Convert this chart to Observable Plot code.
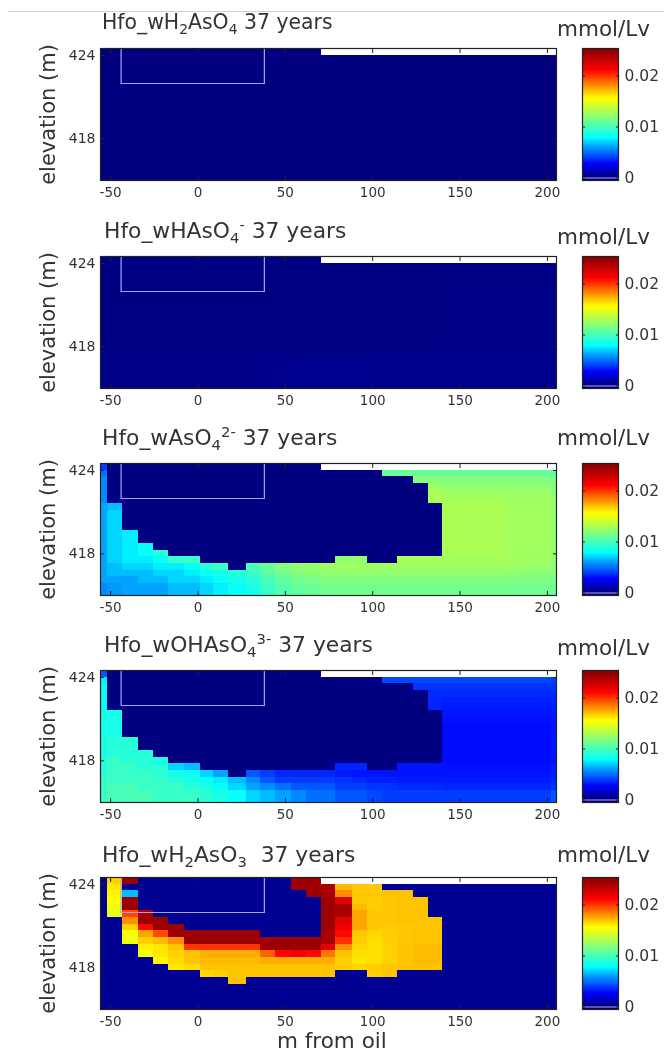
<!DOCTYPE html>
<html><head><meta charset="utf-8">
<script src="https://cdn.jsdelivr.net/npm/d3@7"></script>
<script src="https://cdn.jsdelivr.net/npm/@observablehq/plot@0.6"></script>
<style>
html,body{margin:0;padding:0;background:#fff;}
#root{position:relative;width:664px;height:1053px;overflow:hidden;font-family:"DejaVu Sans",sans-serif;color:#333;filter:blur(0.5px);}
#root svg{position:absolute;overflow:visible;background:transparent;}
.t{position:absolute;line-height:24px;white-space:pre;}
.t sub,.t sup{font-size:.68em;line-height:0;}
#rule{position:absolute;left:8px;right:0;top:11px;height:1px;background:#cfcfcf;}
</style></head><body><div id="root"><div id="rule"></div></div>
<script>
const _ = null;
// grid geometry
const columnEdges = [-55.8,-51.6,-43.4,-34.3,-25.4,-16.7,-7.7,1.4,8.9,17.5,27.7,35.8,44.6,53.5,62.1,70.9,78.9,88.4,97,105.5,114,123.3,131.8,139.7,148.4,157.6,166.1,175.3,183.8,193,202.1,205.2];
const rowEdges = [424.5,424.02,423.54,423.06,422.58,422.1,421.62,421.14,420.66,420.18,419.7,419.22,418.74,418.26,417.78,417.3,416.82,416.34,415.86,415];
const xTicks = [-50,0,50,100,150,200];
const yTicks = [424,418];
const barTicks = [0,0.01,0.02];
const buildingX = [-44,-44,38,38];
const buildingY = [424.5,421.98,421.98,424.5];
const jetValues = [0,0.0028,0.0078,0.0117,0.0155,0.0211,0.0255];
const jetColors = ["#000080","#0000ff","#00ffff","#80ff80","#ffff00","#ff0000","#800000"];

// cell values in 10^-3 mmol/Lv, top row first; _ = no data (white strip)
const h2aso4 = [
[0,0,0,0,0,0,0,0,0,0,0,0,0,0,0,_,_,_,_,_,_,_,_,_,_,_,_,_,_,_,_],
[0,0,0,0,0,0,0,0,0,0,0,0,0,0,0,0,0,0,0,0,0,0,0,0,0,0,0,0,0,0,0],
[0,0,0,0,0,0,0,0,0,0,0,0,0,0,0,0,0,0,0,0,0,0,0,0,0,0,0,0,0,0,0],
[0,0,0,0,0,0,0,0,0,0,0,0,0,0,0,0,0,0,0,0,0,0,0,0,0,0,0,0,0,0,0],
[0,0,0,0,0,0,0,0,0,0,0,0,0,0,0,0,0,0,0,0,0,0,0,0,0,0,0,0,0,0,0],
[0,0,0,0,0,0,0,0,0,0,0,0,0,0,0,0,0,0,0,0,0,0,0,0,0,0,0,0,0,0,0],
[0,0,0,0,0,0,0,0,0,0,0,0,0,0,0,0,0,0,0,0,0,0,0,0,0,0,0,0,0,0,0],
[0,0,0,0,0,0,0,0,0,0,0,0,0,0,0,0,0,0,0,0,0,0,0,0,0,0,0,0,0,0,0],
[0,0,0,0,0,0,0,0,0,0,0,0,0,0,0,0,0,0,0,0,0,0,0,0,0,0,0,0,0,0,0],
[0,0,0,0,0,0,0,0,0,0,0,0,0,0,0,0,0,0,0,0,0,0,0,0,0,0,0,0,0,0,0],
[0,0,0,0,0,0,0,0,0,0,0,0,0,0,0,0,0,0,0,0,0,0,0,0,0,0,0,0,0,0,0],
[0,0,0,0,0,0,0,0,0,0,0,0,0,0,0,0,0,0,0,0,0,0,0,0,0,0,0,0,0,0,0],
[0,0,0,0,0,0,0,0,0,0,0,0,0,0,0,0,0,0,0,0,0,0,0,0,0,0,0,0,0,0,0],
[0,0,0,0,0,0,0,0,0,0,0,0,0,0,0,0,0,0,0,0,0,0,0,0,0,0,0,0,0,0,0],
[0,0,0,0,0,0,0,0,0,0,0,0,0,0,0,0,0,0,0,0,0,0,0,0,0,0,0,0,0,0,0],
[0,0,0,0,0,0,0,0,0,0,0,0,0,0,0,0,0,0,0,0,0,0,0,0,0,0,0,0,0,0,0],
[0,0,0,0,0,0,0,0,0,0,0,0,0,0,0,0,0,0,0,0,0,0,0,0,0,0,0,0,0,0,0],
[0,0,0,0,0,0,0,0,0,0,0,0,0,0,0,0,0,0,0,0,0,0,0,0,0,0,0,0,0,0,0],
[0,0,0,0,0,0,0,0,0,0,0,0,0,0,0,0,0,0,0,0,0,0,0,0,0,0,0,0,0,0,0]];
const haso4 = [
[.1,.1,.1,.1,.1,.1,.1,.1,.1,.1,.1,.1,.1,.1,.1,_,_,_,_,_,_,_,_,_,_,_,_,_,_,_,_],
[.1,.1,.1,.1,.1,.1,.1,.1,.1,.1,.1,.1,.1,.1,.1,.1,.1,.1,.1,.1,.1,.1,.1,.15,.15,.15,.15,.15,.15,.15,.15],
[.1,.1,.1,.1,.1,.1,.1,.1,.1,.1,.1,.1,.1,.1,.1,.1,.1,.1,.1,.1,.1,.1,.1,.15,.15,.15,.15,.15,.15,.15,.15],
[.1,.1,.1,.1,.1,.1,.1,.1,.1,.1,.1,.1,.1,.1,.1,.1,.1,.1,.1,.1,.1,.1,.1,.15,.15,.15,.15,.15,.15,.15,.15],
[.1,.1,.1,.1,.1,.1,.1,.1,.1,.1,.1,.1,.1,.1,.1,.1,.1,.1,.1,.1,.1,.1,.1,.15,.15,.15,.15,.15,.15,.15,.15],
[.1,.1,.1,.1,.1,.1,.1,.1,.1,.1,.1,.1,.1,.1,.1,.1,.1,.1,.1,.1,.1,.1,.1,.2,.2,.2,.2,.2,.2,.2,.2],
[.1,.1,.1,.1,.1,.1,.1,.1,.1,.1,.1,.1,.1,.1,.1,.1,.1,.1,.1,.1,.1,.1,.1,.2,.2,.2,.2,.2,.2,.2,.2],
[.1,.1,.1,.1,.1,.1,.1,.1,.1,.1,.1,.1,.1,.1,.1,.1,.1,.1,.1,.1,.1,.1,.1,.2,.2,.2,.2,.2,.2,.2,.2],
[.1,.1,.1,.1,.1,.1,.1,.1,.1,.1,.1,.1,.1,.1,.1,.1,.1,.1,.1,.1,.1,.1,.1,.2,.2,.2,.2,.2,.2,.2,.2],
[.1,.1,.1,.1,.1,.1,.1,.1,.1,.1,.1,.1,.1,.1,.1,.1,.1,.1,.1,.1,.1,.1,.1,.2,.2,.2,.2,.2,.2,.2,.2],
[.1,.1,.1,.1,.1,.1,.1,.1,.1,.1,.1,.1,.1,.1,.1,.1,.1,.1,.1,.1,.1,.1,.1,.2,.2,.2,.2,.2,.2,.2,.2],
[.1,.1,.1,.1,.1,.1,.1,.1,.1,.1,.1,.1,.1,.1,.1,.1,.1,.1,.1,.1,.1,.1,.1,.2,.2,.2,.2,.2,.2,.2,.2],
[.1,.1,.1,.1,.1,.1,.1,.1,.1,.1,.1,.1,.1,.1,.1,.1,.1,.1,.1,.1,.1,.1,.1,.2,.2,.2,.2,.2,.2,.2,.2],
[.1,.1,.1,.1,.1,.1,.1,.1,.1,.1,.1,.1,.1,.1,.1,.1,.1,.1,.1,.1,.1,.1,.1,.2,.2,.2,.2,.2,.2,.2,.2],
[.2,.2,.2,.2,.2,.2,.2,.2,.2,.2,.2,.2,.2,.2,.2,.2,.2,.2,.2,.2,.2,.2,.2,.25,.25,.25,.25,.25,.25,.25,.25],
[.2,.2,.2,.2,.2,.2,.2,.2,.2,.25,.25,.25,.25,.3,.3,.3,.3,.3,.3,.3,.3,.3,.3,.3,.3,.3,.3,.3,.3,.3,.3],
[.2,.2,.2,.2,.2,.2,.2,.2,.2,.25,.25,.3,.3,.35,.35,.35,.35,.35,.3,.3,.3,.3,.3,.3,.3,.3,.3,.3,.3,.3,.3],
[.2,.2,.2,.2,.2,.2,.2,.2,.2,.25,.25,.3,.3,.35,.35,.35,.35,.35,.3,.3,.3,.3,.3,.3,.3,.3,.3,.3,.3,.3,.3],
[.2,.2,.2,.2,.2,.2,.2,.2,.2,.2,.25,.25,.3,.3,.3,.3,.3,.3,.3,.3,.3,.3,.3,.3,.3,.3,.3,.3,.3,.3,.3]];
const aso4 = [
[4,0,0,0,0,0,0,0,0,0,0,0,0,0,0,_,_,_,_,_,_,_,_,_,_,_,_,_,_,_,_],
[5,0,0,0,0,0,0,0,0,0,0,0,0,0,0,0,0,0,0,11,11,11,11,11,11,11,11,11,11,11,10.5],
[5.5,0,0,0,0,0,0,0,0,0,0,0,0,0,0,0,0,0,0,0,0,11.8,11.8,11.8,11.8,11.8,11.8,11.8,11.8,11.8,11.3],
[5.5,0,0,0,0,0,0,0,0,0,0,0,0,0,0,0,0,0,0,0,0,0,12.6,12.2,12.2,12.2,12.2,12.2,12.2,12.2,11.8],
[5.5,0,0,0,0,0,0,0,0,0,0,0,0,0,0,0,0,0,0,0,0,0,13,12.6,12.6,12.6,12.6,12.5,12.5,12.5,12],
[5.5,0,0,0,0,0,0,0,0,0,0,0,0,0,0,0,0,0,0,0,0,0,13,12.8,12.8,12.8,12.8,12.7,12.6,12.6,12.2],
[6,6.5,0,0,0,0,0,0,0,0,0,0,0,0,0,0,0,0,0,0,0,0,0,13,13,13,13,12.8,12.7,12.7,12.2],
[6,7,0,0,0,0,0,0,0,0,0,0,0,0,0,0,0,0,0,0,0,0,0,13,13,13,13,12.8,12.7,12.7,12.2],
[6,7,0,0,0,0,0,0,0,0,0,0,0,0,0,0,0,0,0,0,0,0,0,13,13,13,13,12.8,12.7,12.7,12.2],
[6,7,0,0,0,0,0,0,0,0,0,0,0,0,0,0,0,0,0,0,0,0,0,13,13,13,13,12.8,12.7,12.7,12.2],
[6,7,7.5,0,0,0,0,0,0,0,0,0,0,0,0,0,0,0,0,0,0,0,0,13,13,13,13,12.8,12.7,12.7,12.2],
[6,7,7.5,0,0,0,0,0,0,0,0,0,0,0,0,0,0,0,0,0,0,0,0,13,13,13,13,12.8,12.7,12.7,12.2],
[6,7,7.5,8,0,0,0,0,0,0,0,0,0,0,0,0,0,0,0,0,0,0,0,13,13,13,13,12.8,12.7,12.7,12.2],
[6,7,7.5,8,9,0,0,0,0,0,0,0,0,0,0,0,0,0,0,0,0,0,0,13,13,13,13,12.8,12.7,12.7,12.2],
[6,7,7.5,7.5,8,9.5,9.5,0,0,0,0,0,0,0,0,0,12.2,12.2,0,0,12.8,12.8,12.8,12.8,12.8,12.8,12.8,12.7,12.6,12.6,12.2],
[6,6.5,7,7,7.5,7.5,8,9,9.5,0,10,11,11.8,12.2,12.4,12.6,12.6,12.6,12.6,12.6,12.6,12.6,12.6,12.6,12.6,12.6,12.6,12.5,12.4,12.4,12],
[6,6.5,6.5,6.5,7,7,7.5,8,8.5,9,9.5,10.5,11.3,11.8,12,12.2,12.2,12.2,12.2,12.2,12.2,12.2,12.2,12.2,12.2,12.2,12.2,12.1,12,12,11.8],
[6,6,6,6.5,6.5,7,7,7.5,8,8.5,9,10,10.8,11.3,11.6,11.8,11.8,11.8,11.8,11.8,11.8,11.8,11.8,11.8,11.8,11.8,11.8,11.8,11.7,11.7,11.4],
[5.5,5.8,6,6,6,6.5,6.5,7,7.5,8,8.5,9.5,10.3,10.8,11,11.3,11.3,11.3,11.3,11.3,11.3,11.3,11.3,11.3,11.3,11.3,11.3,11.3,11.2,11.2,11]];
const ohaso4 = [
[4.5,0,0,0,0,0,0,0,0,0,0,0,0,0,0,_,_,_,_,_,_,_,_,_,_,_,_,_,_,_,_],
[7.5,0,0,0,0,0,0,0,0,0,0,0,0,0,0,0,0,0,0,4.2,4.2,4.2,4.2,4.2,4.2,4.2,4.2,4.2,4.2,4.2,4],
[8,0,0,0,0,0,0,0,0,0,0,0,0,0,0,0,0,0,0,0,0,3.8,3.8,3.8,3.8,3.8,3.8,3.8,3.8,3.8,3.8],
[8,0,0,0,0,0,0,0,0,0,0,0,0,0,0,0,0,0,0,0,0,0,3.6,3.6,3.6,3.6,3.6,3.6,3.6,3.6,3.6],
[8,0,0,0,0,0,0,0,0,0,0,0,0,0,0,0,0,0,0,0,0,0,3.6,3.4,3.4,3.4,3.4,3.4,3.4,3.4,3.5],
[8,0,0,0,0,0,0,0,0,0,0,0,0,0,0,0,0,0,0,0,0,0,3.5,3.3,3.3,3.3,3.3,3.3,3.3,3.3,3.4],
[8.5,8.5,0,0,0,0,0,0,0,0,0,0,0,0,0,0,0,0,0,0,0,0,0,3.2,3.2,3.2,3.2,3.2,3.2,3.2,3.3],
[8.5,8.5,0,0,0,0,0,0,0,0,0,0,0,0,0,0,0,0,0,0,0,0,0,3.1,3.1,3.1,3.1,3.1,3.1,3.1,3.2],
[8.5,8.5,0,0,0,0,0,0,0,0,0,0,0,0,0,0,0,0,0,0,0,0,0,3,3,3,3,3,3,3,3.2],
[8.5,8.5,0,0,0,0,0,0,0,0,0,0,0,0,0,0,0,0,0,0,0,0,0,3,3,3,3,3,3,3,3.2],
[8.5,9,9,0,0,0,0,0,0,0,0,0,0,0,0,0,0,0,0,0,0,0,0,3,3,3,3,3,3,3,3.2],
[8.5,9,9,0,0,0,0,0,0,0,0,0,0,0,0,0,0,0,0,0,0,0,0,3,3,3,3,3,3,3,3.2],
[8.5,9,9,9,0,0,0,0,0,0,0,0,0,0,0,0,0,0,0,0,0,0,0,3,3,3,3,3,3,3,3.2],
[9,9.5,9,9,8.5,0,0,0,0,0,0,0,0,0,0,0,0,0,0,0,0,0,0,3,3,3,3,3,3,3,3.2],
[9,9.5,9.5,9,9,7,6.5,0,0,0,0,0,0,0,0,0,3.5,3.5,0,0,3.2,3.2,3.2,3.1,3.1,3.1,3.1,3.1,3.1,3.1,3.3],
[9,9.5,9.5,9.5,9,8.5,8,7,6,0,4.5,4,3.5,3.5,3.5,3.5,3.3,3.2,3.2,3.2,3.2,3.2,3.2,3.2,3.2,3.2,3.2,3.2,3.2,3.2,3.4],
[9.5,9.5,9.5,9.5,9.5,9,8.5,8,7.5,6.5,5.5,4.5,4,4,4,4,3.8,3.6,3.4,3.4,3.3,3.3,3.3,3.3,3.3,3.3,3.3,3.3,3.3,3.3,3.5],
[9.5,10,10,9.5,9.5,9.5,9,8.5,8,7,6,5.5,5,4.5,4.5,4.5,4,4,3.8,3.8,3.6,3.6,3.6,3.5,3.5,3.5,3.5,3.5,3.5,3.5,3.8],
[9.5,10,10,10,9.5,9.5,9.5,9,8.5,8,7,6.5,6,5.5,5,5,4.5,4.5,4.2,4,4,4,4,4,4,4,4,4,4,4,4.5]];
const h2aso3 = [
[.4,16.5,24.5,.4,.4,.4,.4,.4,.4,.4,.4,.4,.4,24.5,24.5,_,_,_,_,_,_,_,_,_,_,_,_,_,_,_,_],
[.4,16,.4,.4,.4,.4,.4,.4,.4,.4,.4,.4,.4,24.5,24.5,24,17,16.7,16.7,.4,.4,.4,.4,.4,.4,.4,.4,.4,.4,.4,.4],
[.4,15.7,6.5,.4,.4,.4,.4,.4,.4,.4,.4,.4,.4,.4,24.5,24,18,16.7,16.7,16.8,16.8,.4,.4,.4,.4,.4,.4,.4,.4,.4,.4],
[.4,15.5,24.5,.4,.4,.4,.4,.4,.4,.4,.4,.4,.4,.4,.4,24.5,22,16.7,16.6,16.7,16.8,16.8,.4,.4,.4,.4,.4,.4,.4,.4,.4],
[.4,15,24.5,.4,.4,.4,.4,.4,.4,.4,.4,.4,.4,.4,.4,24.5,24,17,16.6,16.7,16.8,16.8,.4,.4,.4,.4,.4,.4,.4,.4,.4],
[.4,14.7,19.5,24,.4,.4,.4,.4,.4,.4,.4,.4,.4,.4,.4,24.5,24,17.5,16.7,16.7,16.8,16.8,.4,.4,.4,.4,.4,.4,.4,.4,.4],
[.4,.4,18,24.5,24.5,.4,.4,.4,.4,.4,.4,.4,.4,.4,.4,24.5,22,17.5,16.7,16.7,16.8,16.8,16.8,.4,.4,.4,.4,.4,.4,.4,.4],
[.4,.4,16.5,21,24.5,24.5,.4,.4,.4,.4,.4,.4,.4,.4,.4,24.5,21.5,17.5,16.7,16.6,16.7,16.8,16.8,.4,.4,.4,.4,.4,.4,.4,.4],
[.4,.4,15.3,17.5,19.5,24.5,24.5,24.5,24.5,24.5,24.5,.4,.4,.4,.4,24,21,16.7,16.4,16.6,16.7,16.8,16.8,.4,.4,.4,.4,.4,.4,.4,.4],
[.4,.4,15,16.5,17,18,24.5,24.5,24.5,24.5,24.5,24.5,24.5,24.5,24.5,24,20,16.6,16.2,16.5,16.7,16.8,16.8,.4,.4,.4,.4,.4,.4,.4,.4],
[.4,.4,.4,15.8,16,16.8,20,20,20,20,20,24.5,24.5,24.5,24.5,22,18,16.4,16.2,16.5,16.8,17,17,.4,.4,.4,.4,.4,.4,.4,.4],
[.4,.4,.4,15.2,16,16.5,16.8,17.3,17.3,17.3,17.3,19,21,21.5,21,18.5,16.8,16.2,16.2,16.5,16.8,17,17,.4,.4,.4,.4,.4,.4,.4,.4],
[.4,.4,.4,.4,15.7,16.3,16.8,17,17,17,17,17.3,17.3,17.3,17.3,17.3,16.6,16,16.2,16.5,16.8,17,17,.4,.4,.4,.4,.4,.4,.4,.4],
[.4,.4,.4,.4,.4,16,16.3,16.8,16.8,16.8,16.8,16.8,16.8,16.8,16.8,16.8,16.6,16.4,16.6,16.8,16.8,16.8,16.8,.4,.4,.4,.4,.4,.4,.4,.4],
[.4,.4,.4,.4,.4,.4,.4,16.3,16.5,16.8,16.8,16.8,16.8,16.8,16.8,16.8,.4,.4,16.6,16.8,.4,.4,.4,.4,.4,.4,.4,.4,.4,.4,.4],
[.4,.4,.4,.4,.4,.4,.4,.4,.4,16.8,.4,.4,.4,.4,.4,.4,.4,.4,.4,.4,.4,.4,.4,.4,.4,.4,.4,.4,.4,.4,.4],
[.4,.4,.4,.4,.4,.4,.4,.4,.4,.4,.4,.4,.4,.4,.4,.4,.4,.4,.4,.4,.4,.4,.4,.4,.4,.4,.4,.4,.4,.4,.4],
[.4,.4,.4,.4,.4,.4,.4,.4,.4,.4,.4,.4,.4,.4,.4,.4,.4,.4,.4,.4,.4,.4,.4,.4,.4,.4,.4,.4,.4,.4,.4],
[.4,.4,.4,.4,.4,.4,.4,.4,.4,.4,.4,.4,.4,.4,.4,.4,.4,.4,.4,.4,.4,.4,.4,.4,.4,.4,.4,.4,.4,.4,.4]];

const panelGrids = [h2aso4,haso4,aso4,ohaso4,h2aso3];
const panelTitles = [
 "Hfo_wH<sub>2</sub>AsO<sub>4</sub> 37 years",
 "Hfo_wHAsO<sub>4</sub><sup>-</sup> 37 years",
 "Hfo_wAsO<sub>4</sub><sup>2-</sup> 37 years",
 "Hfo_wOHAsO<sub>4</sub><sup>3-</sup> 37 years",
 "Hfo_wH<sub>2</sub>AsO<sub>3</sub>  37 years"];
const unitLabel = "mmol/Lv";
const xLabel = "m from oil";
const yLabel = "elevation (m)";

// layout
const panelTops = [48,256,463,670,877];
const titleCentres = [22,231,438,645,855];
const titleLefts = [102,104,102,104,102];
const titleSizes = [20.4,21.8,21.8,21.8,21.8];
const unitCentres = [29,237,438,648,855];

const root = document.getElementById("root");
const colorScale = {type:"linear",domain:jetValues,range:jetColors,clamp:true};
const font = {fontFamily:"DejaVu Sans, sans-serif"};
// one slab per value step of the colour bar; each overlaps the next to avoid seams
const barLevels = d3.range(-0.0005,0.0254,0.0002);

const toCells = rows => rows.flatMap((row,r) => row.flatMap((v,c) => v===null?[]:[{
  x1:columnEdges[c],x2:columnEdges[c+1],y1:rowEdges[r+1],y2:rowEdges[r],v:v/1000}]));

panelGrids.forEach((grid,i) => {
  const top = panelTops[i];
  const main = Plot.plot({
    width:575,height:168,marginLeft:100,marginRight:19,marginTop:10,marginBottom:26,
    style:font,
    x:{domain:[-55.8,205.2]},
    y:{domain:[415,424.5]},
    color:colorScale,
    marks:[
      Plot.rect(toCells(grid),{x1:"x1",x2:"x2",y1:"y1",y2:"y2",fill:"v",shapeRendering:"crispEdges"}),
      Plot.line(buildingX.map((x,k)=>({x,y:buildingY[k]})),{x:"x",y:"y",stroke:"#a4a4ee",strokeWidth:1.2}),
      Plot.frame({stroke:"#222",strokeWidth:1.2}),
      Plot.axisX({ticks:xTicks,tickSize:-4,tickPadding:11,label:null,fontSize:13.5,fill:"#333",stroke:"#222",tickFormat:d=>String(d)}),
      Plot.axisX({anchor:"top",ticks:xTicks,tickSize:-4,label:null,tickFormat:()=>"",stroke:"#222"}),
      Plot.axisY({ticks:yTicks,tickSize:-4,tickPadding:9,label:null,fontSize:14,fill:"#333",stroke:"#222",tickFormat:d=>String(d)}),
      Plot.axisY({anchor:"right",ticks:yTicks,tickSize:-4,label:null,tickFormat:()=>"",stroke:"#222"}),
      Plot.axisY({ticks:[],tickSize:0,label:yLabel,labelAnchor:"center",labelArrow:"none",labelOffset:60,fontSize:21,fill:"#333"})
    ]
  });
  main.style.left = "0px";
  main.style.top = (top-10)+"px";
  root.appendChild(main);

  const bar = Plot.plot({
    width:89,height:168,marginLeft:7,marginRight:46,marginTop:10,marginBottom:26,
    style:font,
    x:{domain:[0,1],axis:null},
    y:{domain:[-0.00049,0.02539]},
    color:colorScale,
    marks:[
      Plot.rect(barLevels,{x1:0,x2:1,y1:d=>d,y2:d=>d+0.0003,fill:d=>d+0.0001,shapeRendering:"crispEdges",clip:true}),
      Plot.ruleY([0],{stroke:"#a9a9f0",strokeWidth:1.2}),
      Plot.frame({stroke:"#222",strokeWidth:1.2}),
      Plot.axisY({anchor:"right",ticks:barTicks,tickSize:-3,tickPadding:9,label:null,fontSize:15.5,fill:"#333",stroke:"#222",tickFormat:d=>String(d)}),
      Plot.axisY({anchor:"left",ticks:barTicks,tickSize:-3,label:null,tickFormat:()=>"",stroke:"#222"})
    ]
  });
  bar.style.left = "575px";
  bar.style.top = (top-10)+"px";
  root.appendChild(bar);

  const t = document.createElement("div");
  t.className = "t";
  t.innerHTML = panelTitles[i];
  t.style.fontSize = titleSizes[i]+"px";
  t.style.left = titleLefts[i]+"px";
  t.style.top = (titleCentres[i]-12)+"px";
  root.appendChild(t);

  const u = document.createElement("div");
  u.className = "t";
  u.textContent = unitLabel;
  u.style.fontSize = "21.5px";
  u.style.left = "557px";
  u.style.top = (unitCentres[i]-12)+"px";
  root.appendChild(u);
});

const xl = document.createElement("div");
xl.className = "t";
xl.textContent = xLabel;
xl.style.fontSize = "21.5px";
xl.style.left = "277px";
xl.style.top = "1029px";
root.appendChild(xl);
</script></body></html>
